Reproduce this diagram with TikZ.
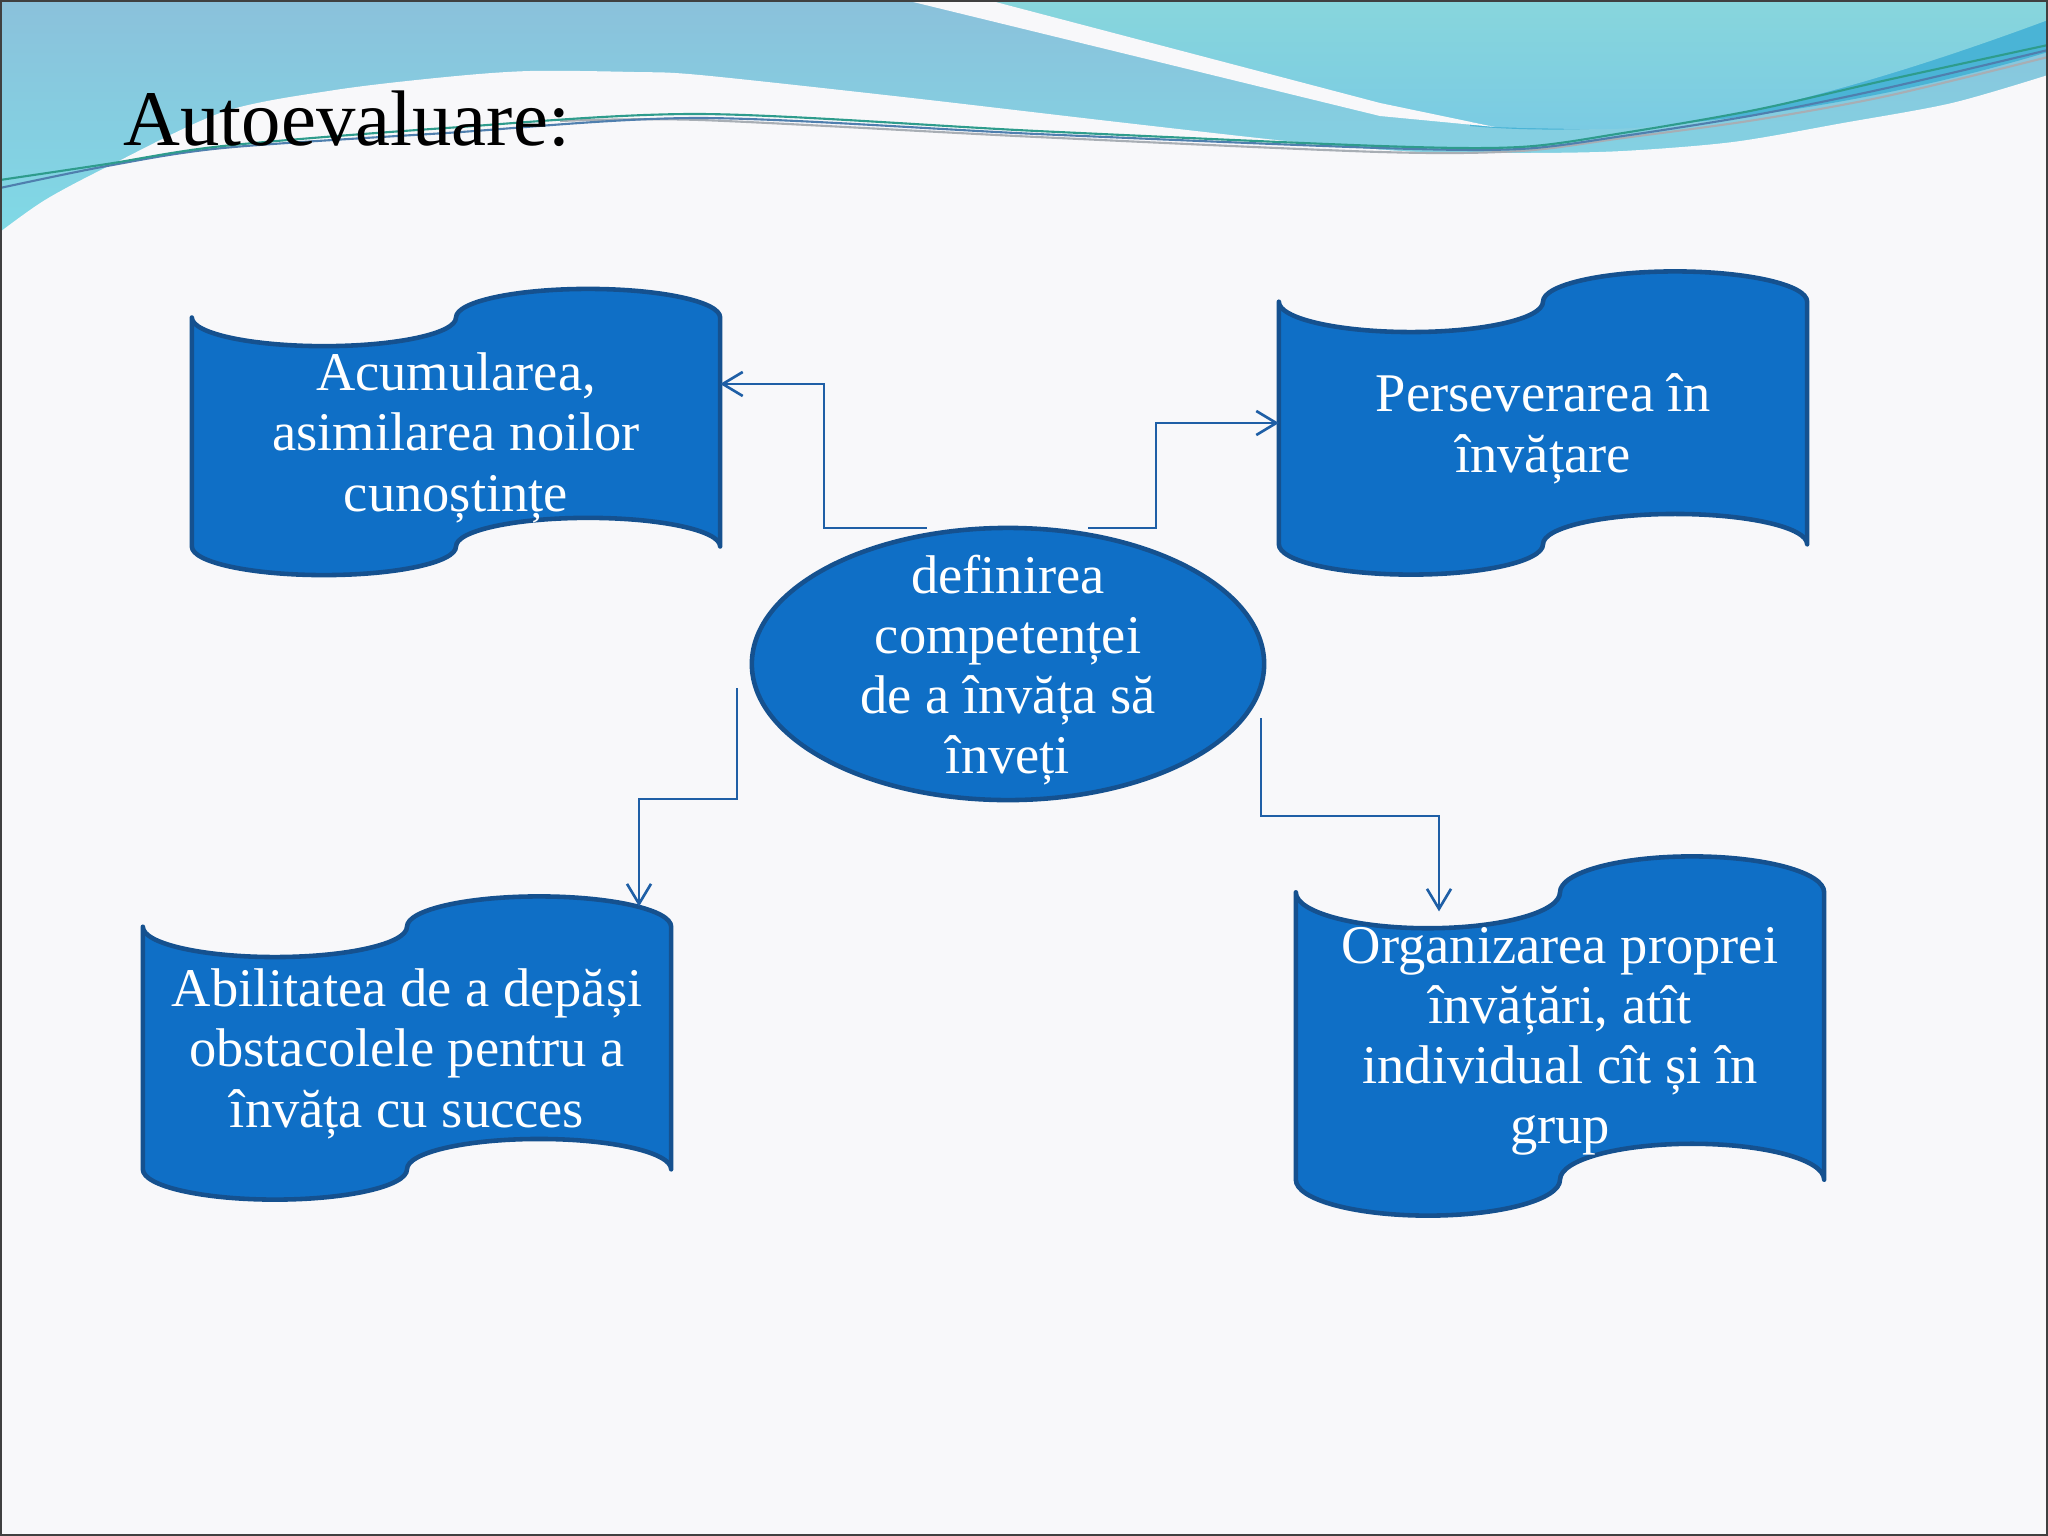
\documentclass[tikz,border=0pt]{standalone}
\usepackage{fontspec}
\setmainfont{Liberation Serif}
\usetikzlibrary{calc,arrows.meta,shapes.geometric,backgrounds}
\definecolor{boxblue}{HTML}{0F6FC6}
\definecolor{boxedge}{HTML}{15518F}
\definecolor{linkblue}{HTML}{1F5FA6}
\definecolor{pagebg}{HTML}{F8F8FA}
\definecolor{skytop}{HTML}{8BC1DB}
\definecolor{skylow}{HTML}{7FDAE6}
\definecolor{tealtop}{HTML}{88D6DC}
\definecolor{teallow}{HTML}{7ACBE3}
\definecolor{deepband}{HTML}{4AB4D6}
\definecolor{linegreen}{HTML}{2E9C8C}
\definecolor{lineblue}{HTML}{4F7FAE}
\definecolor{linegrey}{HTML}{A8AEB4}
\tikzset{
    wave-box/.style = {rectangle, text=white, font=\fontsize{15.5}{17.1}\selectfont, align=center, inner sep=0pt, outer sep=0pt, minimum width=5.28cm, text depth=-1.2pt},
    wave-box-fill/.style = {fill=boxblue, draw=boxedge, line width=1.3pt, line join=round},
    oval-box/.style = {ellipse, fill=boxblue, draw=boxedge, line width=1.3pt, text=white, font=\fontsize{15.5}{17.1}\selectfont, align=center, inner xsep=0pt, inner ysep=-12pt, outer sep=0pt, minimum width=5.12cm, minimum height=2.72cm, text depth=-1pt},
    link-arrow/.style = {draw=linkblue, line width=0.75pt, -{Straight Barb[length=0.2cm,width=0.24cm]}},
    slide-title/.style = {anchor=base west, font=\fontsize{22.4}{26}\selectfont, inner sep=0pt},
}
% punched tape outline round a node
\newcommand{\drawwavebox}[1]{%
  \path[wave-box-fill] let \p1=(#1.north west), \p2=(#1.south east),
    \n1={(\x2-\x1)/4}, \n2={(\y1-\y2)/10} in
    (\x1,\y1-\n2) arc[start angle=180,end angle=360,x radius=\n1,y radius=\n2]
    arc[start angle=180,end angle=0,x radius=\n1,y radius=\n2]
    -- (\x2,\y2+\n2) arc[start angle=0,end angle=180,x radius=\n1,y radius=\n2]
    arc[start angle=0,end angle=-180,x radius=\n1,y radius=\n2] -- cycle;}

\begin{document}
\begin{tikzpicture}[x=0.01cm,y=-0.01cm]
\useasboundingbox (0,0) rectangle (2048,1536);

\node[slide-title] (title) at (123,145) {Autoevaluare:};

\node[wave-box, minimum height=2.86cm] (acum) at (456,432) {Acumularea,\\asimilarea noilor\\cunoștințe};
\node[wave-box, minimum height=3.03cm] (pers) at (1543,423) {Perseverarea în\\învățare};
\node[wave-box, minimum height=3.03cm] (abil) at (407,1048) {Abilitatea de a depăși\\obstacolele pentru a\\învăța cu succes};
\node[wave-box, minimum height=3.59cm, text depth=0.2pt] (org) at (1560,1036) {Organizarea proprei\\învățări, atît\\individual cît și în\\grup};
\node[oval-box] (def) at (1008,664) {definirea\\competenței\\de a învăța să\\înveți};

\draw[link-arrow] ([xshift=-0.81cm]def.north) -- ++(-103,0) |- ([yshift=0.48cm]acum.east);
\draw[link-arrow] ([xshift=0.8cm]def.north) -- ++(68,0) |- (pers.west);
\draw[link-arrow] ([shift={(-15,24)}]def.west) -- ++(0,111) -| ([shift={(232,10)}]abil.north);
\draw[link-arrow] ([shift={(-3,54)}]def.east) -- ++(0,98) -| ([shift={(-121,55)}]org.north);

\begin{scope}[on background layer]
% slide backdrop
\fill[pagebg] (0,0) rectangle (2048,1536);
\shade[top color=skytop, bottom color=skylow] (0,0) rectangle (2048,240);
\fill[deepband] (1470,126) .. controls (1620,140) and (1850,112) .. (2048,52) -- (2048,0) -- (1470,0) -- cycle;
\shade[top color=tealtop, bottom color=teallow] (988,0) -- (2048,0) -- (2048,20) .. controls (1900,75) and (1720,130) .. (1600,129) .. controls (1560,129) and (1520,128) .. (1495,127) -- (1380,103) -- cycle;
\fill[pagebg] (905,0) -- (988,0) -- (1380,103) -- (1495,127) -- (1380,116) -- cycle;
\fill[pagebg] plot[smooth] coordinates {(0,232) (45,200) (107,167) (223,112) (335,90) (446,77) (530,71) (634,72) (700,75) (903,97) (1126,123) (1305,143) (1420,152) (1530,153) (1623,151) (1733,142) (1843,123) (1952,103) (2048,75)} -- (2048,1536) -- (0,1536) -- cycle;
\draw[linegrey, line width=0.6pt] plot[smooth] coordinates {(560,121) (700,120) (1037,137) (1380,152) (1520,151) (1623,138) (1755,120) (1887,96) (2048,57)};
\draw[lineblue, line width=0.6pt] plot[smooth] coordinates {(0,188) (107,166) (223,148) (446,133) (700,118) (1037,134) (1380,148) (1520,149) (1623,136) (1755,115) (1887,88) (2048,50)};
\draw[linegreen, line width=0.6pt] plot[smooth] coordinates {(0,180) (107,164) (223,146) (446,128) (700,114) (1037,131) (1380,146) (1520,147) (1623,133) (1755,110) (1887,80) (2048,45)};
\draw[black!75, line width=0.6pt] (1,1) rectangle (2047,1535);
% blue boxes
\drawwavebox{acum}
\drawwavebox{pers}
\drawwavebox{abil}
\drawwavebox{org}
\end{scope}
\end{tikzpicture}
\end{document}
